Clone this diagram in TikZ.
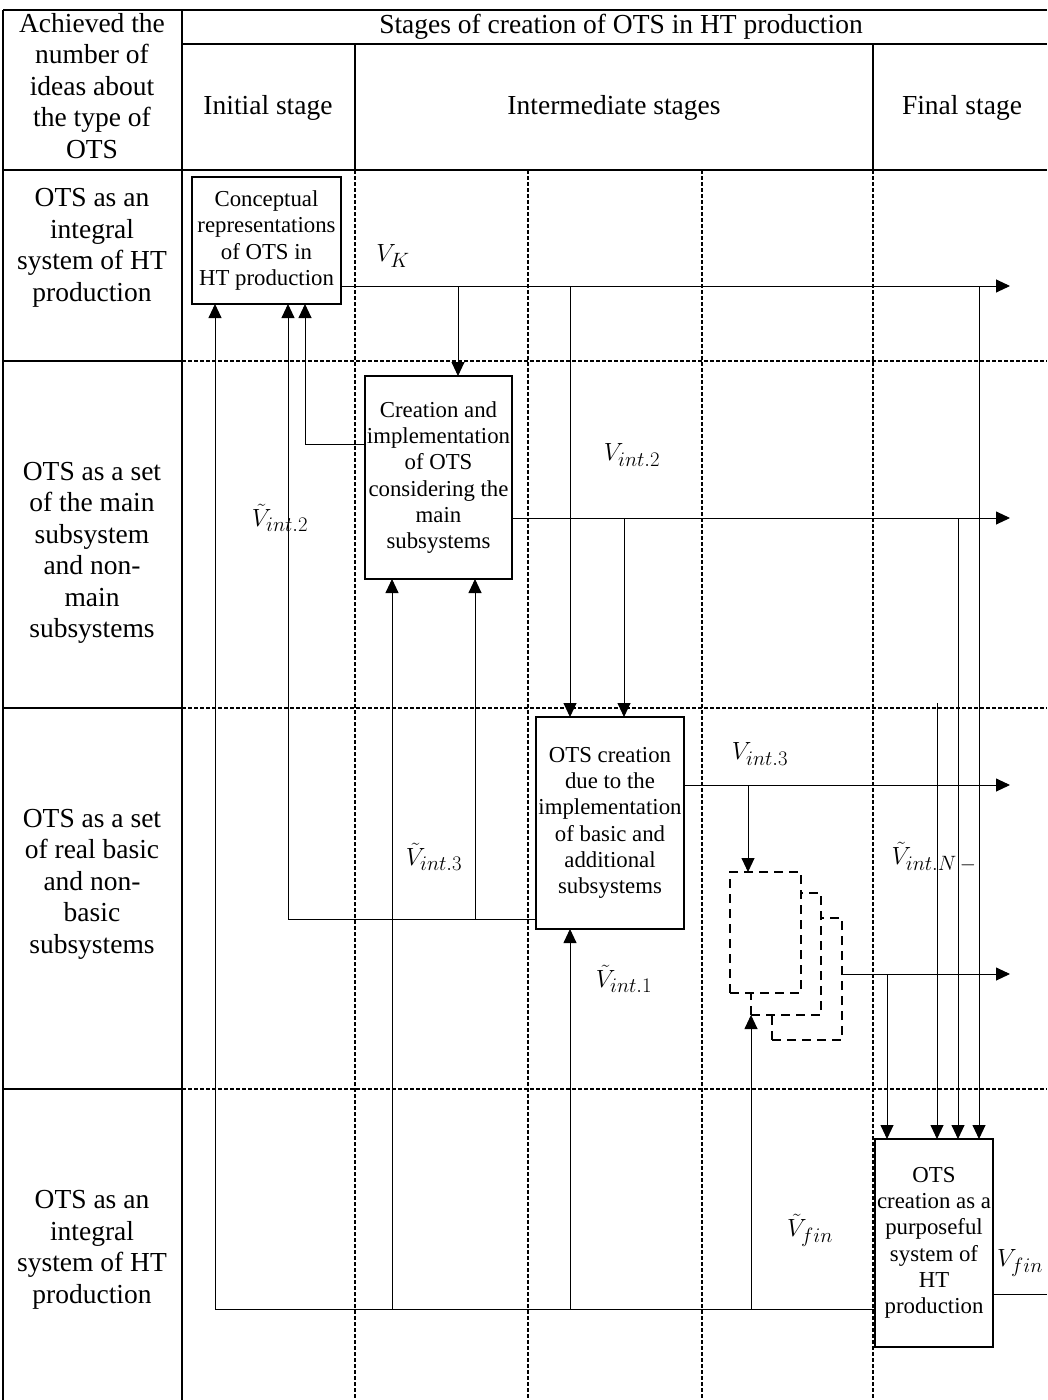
\documentclass[tikz,border=0pt]{standalone}
\usepackage{fontspec}
\setmainfont{Liberation Serif}
\usetikzlibrary{arrows.meta}

\begin{document}
\begin{tikzpicture}[x=1pt, y=-1pt,
    cell/.style={align=center, inner sep=0pt, font=\fontsize{27.5}{31.5}\selectfont},
    block/.style={draw, line width=2.2pt, fill=white, align=center, inner sep=0pt, outer sep=0pt, font=\fontsize{22.8}{26.3}\selectfont},
    ghost/.style={draw, line width=1.8pt, fill=white, dash pattern=on 9pt off 6pt, inner sep=0pt, outer sep=0pt},
    flow/.style={line width=0.9pt},
    arr/.style={flow, -{Triangle[length=14pt,width=13pt]}},
    lbl/.style={inner sep=0pt, font=\fontsize{24.88}{30}\selectfont},
    rule/.style={line width=1.8pt},
    grid/.style={line width=1.1pt, dash pattern=on 4pt off 2pt}]

    \useasboundingbox (0,0) rectangle (1047,1400);

    % table
    \draw[rule] (3,10) -- (1047,10);
    \draw[rule] (3,10) -- (3,1400);
    \draw[rule] (182,10) -- (182,1400);
    \draw[rule] (3,170) -- (1047,170);
    \draw[line width=1.4pt] (182,44) -- (1047,44);
    \draw[line width=1.4pt] (355,44) -- (355,170);
    \draw[line width=1.4pt] (873,44) -- (873,170);
    \foreach \y in {361,708,1089} {
        \draw[rule] (3,\y) -- (182,\y);
        \draw[grid] (182,\y) -- (1047,\y);
    }
    \foreach \x in {355,528,702} {
        \draw[grid] (\x,170) -- (\x,1400);
    }
    \draw[grid, line width=2pt] (873,170) -- (873,1400);

    \node[cell] (hd) at (92,86) {Achieved the\\number of\\ideas about\\the type of\\OTS};
    \node[cell] (top) at (621,27) {Stages of creation of OTS in HT production};
    \node[cell] (st1) at (268,108) {Initial stage};
    \node[cell] (st2) at (614,108) {Intermediate stages};
    \node[cell] (st3) at (962,108) {Final stage};
    \node[cell] (r1) at (92,248) {OTS as an\\integral\\system of HT\\production};
    \node[cell] (r2) at (92,553) {OTS as a set\\of the main\\subsystem\\and non-\\main\\subsystems};
    \node[cell] (r3) at (92,884) {OTS as a set\\of real basic\\and non-\\basic\\subsystems};
    \node[cell] (r4) at (92,1250) {OTS as an\\integral\\system of HT\\production};

    % blocks
    \node[block, minimum width=149pt, minimum height=127pt] (A) at (266.5,240.5) {Conceptual\\representations\\of OTS in\\HT production};
    \node[block, minimum width=147pt, minimum height=203pt] (B) at (438.5,477.5) {Creation and\\implementation\\of OTS\\considering the\\main\\subsystems};
    \node[block, minimum width=148pt, minimum height=212pt] (C) at (610,823) {OTS creation\\due to the\\implementation\\of basic and\\additional\\subsystems};
    \node[block, minimum width=118pt, minimum height=208pt] (D) at (934,1243) {OTS\\creation as a\\purposeful\\system of\\HT\\production};

    \node[ghost, minimum width=70pt, minimum height=122pt] (S3) at (807,979) {};
    \node[ghost, minimum width=70pt, minimum height=122pt] (S2) at (786,954) {};
    \node[ghost, minimum width=71pt, minimum height=121pt] (S1) at (765.5,932.5) {};

    % connectors
    \coordinate (endA) at (1010,286);
    \coordinate (jAB) at (458,286);
    \coordinate (jAC) at (570,286);
    \coordinate (jAD) at (979,286);
    \draw[arr] (A.east |- endA) -- (endA);
    \draw[arr] (jAB) -- (jAB |- B.north);
    \draw[arr] (jAC) -- (jAC |- C.north);
    \draw[arr] (jAD) -- (jAD |- D.north);

    \coordinate (endB) at (1010,518);
    \coordinate (jBC) at (624,518);
    \coordinate (jBD) at (958,518);
    \coordinate (fB) at (305,444);
    \draw[arr] (B.east |- endB) -- (endB);
    \draw[arr] (jBC) -- (jBC |- C.north);
    \draw[arr] (jBD) -- (jBD |- D.north);
    \draw[arr] (B.west |- fB) -- (fB) -- (fB |- A.south);

    \coordinate (endC) at (1010,785);
    \coordinate (jCS) at (748,785);
    \coordinate (fC) at (288,919);
    \coordinate (jCB) at (475,919);
    \draw[arr] (C.east |- endC) -- (endC);
    \draw[arr] (jCS) -- (jCS |- S1.north);
    \draw[arr] (C.west |- fC) -- (fC) -- (fC |- A.south);
    \draw[arr] (jCB) -- (jCB |- B.south);

    \coordinate (endS) at (1010,974);
    \coordinate (jSD) at (887,974);
    \coordinate (topN) at (937,703);
    \draw[arr] (S3.east |- endS) -- (endS);
    \draw[arr] (jSD) -- (jSD |- D.north);
    \draw[arr] (topN) -- (topN |- D.north);

    \coordinate (fD) at (215,1309);
    \coordinate (jDB) at (392,1309);
    \coordinate (jDC) at (570,1309);
    \coordinate (jDS) at (751,1309);
    \coordinate (endD) at (1047,1294);
    \draw[arr] (D.west |- fD) -- (fD) -- (fD |- A.south);
    \draw[arr] (jDB) -- (jDB |- B.south);
    \draw[arr] (jDC) -- (jDC |- C.south);
    \draw[arr] (jDS) -- (jDS |- S2.south);
    \draw[flow] (D.east |- endD) -- (endD);

    % labels
    \node[lbl] (vk) at (393,256) {$V_K$};
    \node[lbl] (v2) at (632,455) {$V_{int.2}$};
    \node[lbl] (tv2) at (280,518) {$\tilde{V}_{int.2}$};
    \node[lbl] (v3) at (760,754) {$V_{int.3}$};
    \node[lbl] (tv3) at (434,857) {$\tilde{V}_{int.3}$};
    \node[lbl] (tvn) at (934,857) {$\tilde{V}_{int.N\,-}$};
    \node[lbl] (tv1) at (624,979) {$\tilde{V}_{int.1}$};
    \node[lbl] (tvf) at (810,1230) {$\tilde{V}_{fin}$};
    \node[lbl] (vf) at (1020,1263) {$V_{fin}$};
\end{tikzpicture}
\end{document}
